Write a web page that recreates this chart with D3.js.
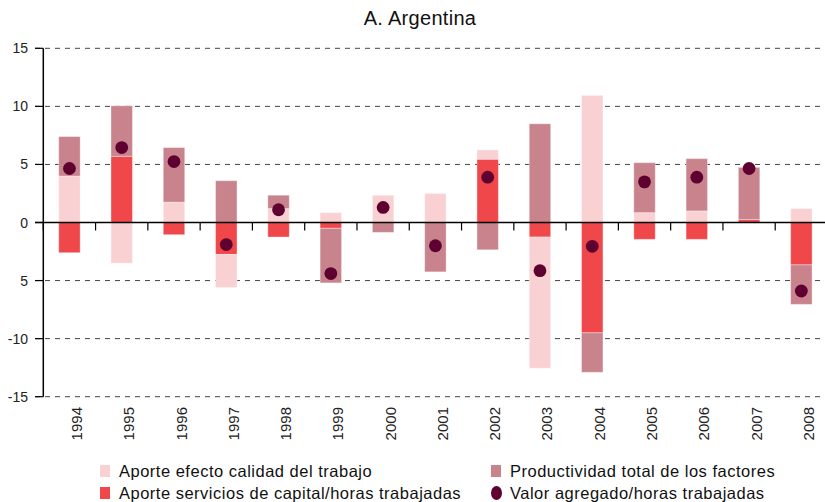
<!DOCTYPE html>
<meta charset="utf-8">
<style>
    body { margin: 0; background: #fff; }
    svg { font-family: "Liberation Sans", Arial, sans-serif; }
    .grid line { stroke: #444; stroke-dasharray: 5,5; }
</style>
<body>
<div id="plotarea"></div>
<script src="https://cdn.jsdelivr.net/npm/d3@7/dist/d3.min.js"></script>
<script>

    var years = ["1994","1995","1996","1997","1998","1999","2000","2001","2002","2003","2004","2005","2006","2007","2008"];

    // Aporte servicios de capital/horas trabajadas
    var capital   = [-2.6, 5.7, -1.05, -2.75, -1.25, -0.5, 0, 0, 5.45, -1.25, -9.5, -1.45, -1.45, 0.25, -3.65];
    // Aporte efecto calidad del trabajo
    var calidad   = [4.0, -3.5, 1.75, -2.85, 1.2, 0.85, 2.35, 2.5, 0.8, -11.3, 10.95, 0.85, 1.0, 0, 1.2];
    // Productividad total de los factores
    var ptf       = [3.4, 4.35, 4.7, 3.6, 1.15, -4.7, -0.85, -4.25, -2.35, 8.5, -3.4, 4.3, 4.5, 4.5, -3.4];
    // Valor agregado/horas trabajadas
    var valor     = [4.65, 6.45, 5.25, -1.9, 1.1, -4.4, 1.3, -2.0, 3.9, -4.15, -2.05, 3.5, 3.9, 4.65, -5.9];

    var yTicks = [15, 10, 5, 0, -5, -10, -15];
    var yTickLabels = ["15", "10", "5", "0", "5", "-10", "-15"];

    var keys = ["capital", "calidad", "ptf"];
    var colors = {calidad: "#fad1d3", capital: "#f0474b", ptf: "#c8838d"};
    var dotColor = "#5e0030";

    var table = years.map(function(y, i) {
        return {year: y, capital: capital[i], calidad: calidad[i], ptf: ptf[i]};
    });

    var W = 825, H = 502;
    var x0 = 43.3, x1 = 827.5;

    var x = d3.scaleBand().domain(years).range([x0, x1]).padding(0);
    var y = d3.scaleLinear().domain([-15, 15]).range([396.7, 48.3]);
    var barW = x.bandwidth() * 0.41;

    var svg = d3.select("#plotarea").append("svg")
            .attr("width", W)
            .attr("height", H);

    svg.append("text")
            .attr("x", 420)
            .attr("y", 25)
            .attr("text-anchor", "middle")
            .style("font-size", "20px")
            .style("letter-spacing", "0.3px")
            .attr("fill", "#111")
            .text("A. Argentina");

    // gridlines
    svg.append("g").attr("class", "grid")
            .selectAll("line")
            .data(yTicks.filter(function(d) { return d !== 0; }))
            .enter().append("line")
            .attr("x1", 35).attr("x2", W)
            .attr("y1", function(d) { return y(d); })
            .attr("y2", function(d) { return y(d); });

    // stacked bars
    var series = d3.stack().keys(keys).offset(d3.stackOffsetDiverging)(table);

    svg.append("g").selectAll("g")
            .data(series)
            .enter().append("g")
            .attr("fill", function(d) { return colors[d.key]; })
            .selectAll("rect")
            .data(function(d) { return d; })
            .enter().append("rect")
            .attr("x", function(d) { return x(d.data.year) + (x.bandwidth() - barW) / 2; })
            .attr("width", barW)
            .attr("y", function(d) { return y(Math.max(d[0], d[1])); })
            .attr("height", function(d) { return Math.abs(y(d[0]) - y(d[1])); })
            .attr("stroke", "rgba(255,255,255,0.35)")
            .attr("stroke-width", 1);

    // y axis
    var yAxis = svg.append("g");
    yAxis.append("line")
            .attr("x1", x0).attr("x2", x0)
            .attr("y1", y(15)).attr("y2", y(-15))
            .attr("stroke", "#000").attr("stroke-width", 1.5);
    yAxis.selectAll(".tk")
            .data(yTicks)
            .enter().append("line")
            .attr("x1", 35).attr("x2", x0)
            .attr("y1", function(d) { return y(d); })
            .attr("y2", function(d) { return y(d); })
            .attr("stroke", "#000").attr("stroke-width", 1.2);
    yAxis.selectAll("text")
            .data(yTicks)
            .enter().append("text")
            .attr("x", 28)
            .attr("y", function(d) { return y(d); })
            .attr("dy", "0.36em")
            .attr("text-anchor", "end")
            .style("font-size", "14px")
            .attr("fill", "#222")
            .text(function(d, i) { return yTickLabels[i]; });

    // zero line and x ticks
    svg.append("line")
            .attr("x1", 35).attr("x2", W)
            .attr("y1", y(0)).attr("y2", y(0))
            .attr("stroke", "#000").attr("stroke-width", 1.5);
    svg.append("g").selectAll("line")
            .data(years)
            .enter().append("line")
            .attr("x1", function(d) { return x(d); })
            .attr("x2", function(d) { return x(d); })
            .attr("y1", y(0)).attr("y2", y(0) + 8)
            .attr("stroke", "#000").attr("stroke-width", 1.2);

    // dots
    svg.append("g").selectAll("circle")
            .data(valor)
            .enter().append("circle")
            .attr("cx", function(d, i) { return x(years[i]) + x.bandwidth() / 2; })
            .attr("cy", function(d) { return y(d); })
            .attr("r", 6.4)
            .attr("fill", dotColor);

    // year labels
    svg.append("g").selectAll("text")
            .data(years)
            .enter().append("text")
            .attr("transform", function(d) {
                return "translate(" + (x(d) + x.bandwidth() / 2 + 12.5) + ",407) rotate(-90)";
            })
            .attr("text-anchor", "end")
            .style("font-size", "15px")
            .attr("fill", "#222")
            .text(function(d) { return d; });

    // legend
    var legend = [
        {label: "Aporte efecto calidad del trabajo", color: colors.calidad, x: 100, y: 471, dot: false},
        {label: "Aporte servicios de capital/horas trabajadas", color: colors.capital, x: 100, y: 493, dot: false},
        {label: "Productividad total de los factores", color: colors.ptf, x: 491, y: 471, dot: false},
        {label: "Valor agregado/horas trabajadas", color: dotColor, x: 491, y: 493, dot: true}
    ];

    var lg = svg.append("g").selectAll("g")
            .data(legend)
            .enter().append("g")
            .attr("transform", function(d) { return "translate(" + d.x + "," + d.y + ")"; });

    lg.filter(function(d) { return !d.dot; }).append("rect")
            .attr("x", 0).attr("y", -6)
            .attr("width", 10).attr("height", 12)
            .attr("fill", function(d) { return d.color; });
    lg.filter(function(d) { return d.dot; }).append("ellipse")
            .attr("cx", 5.5).attr("cy", 0)
            .attr("rx", 5.5).attr("ry", 7)
            .attr("fill", function(d) { return d.color; });
    lg.append("text")
            .attr("x", 19)
            .attr("dy", "0.36em")
            .style("font-size", "16.5px")
            .style("letter-spacing", "0.5px")
            .attr("fill", "#111")
            .text(function(d) { return d.label; });

</script>
